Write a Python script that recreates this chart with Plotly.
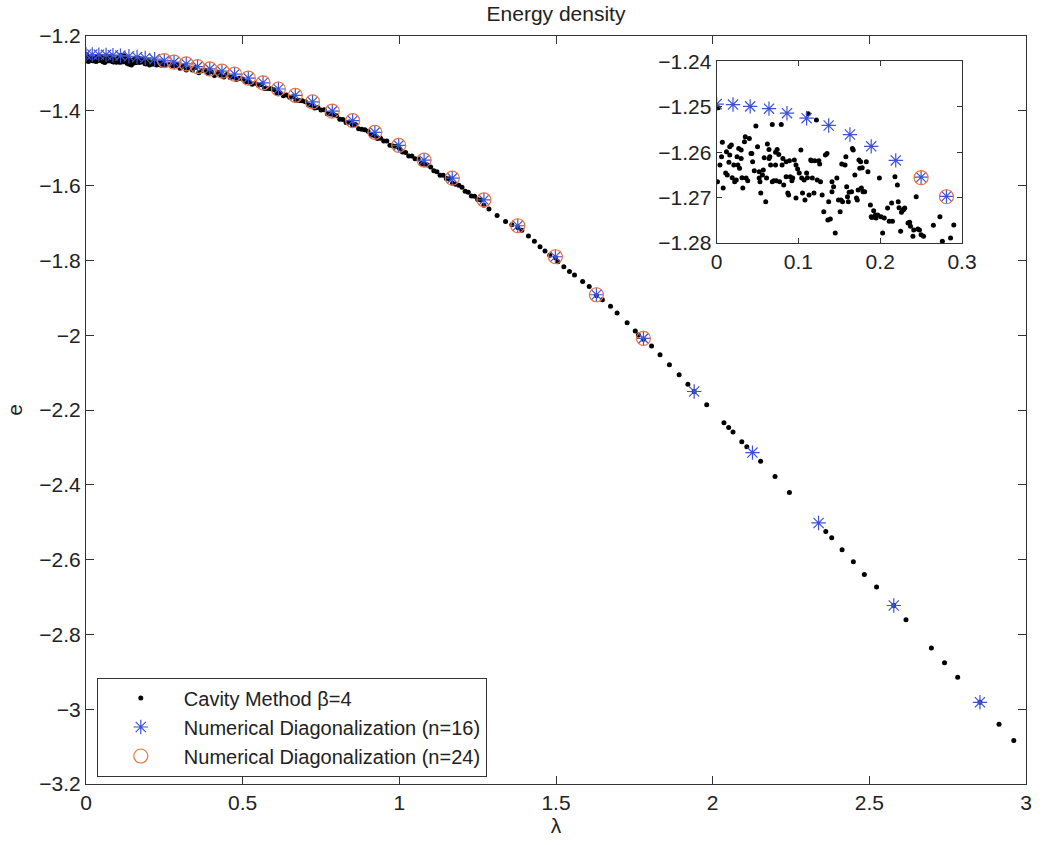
import plotly.graph_objects as go

# ---------------- data ----------------
# Cavity Method beta=4 (black dots)
cav_lam = [
    0.002, 0.001, 0.004, 0.006, 0.008, 0.007, 0.011, 0.012, 0.013, 0.016, 0.016, 0.018, 0.015, 0.019, 0.021,
    0.022, 0.024, 0.025, 0.026, 0.027, 0.028, 0.030, 0.030, 0.031, 0.032, 0.034, 0.035, 0.036, 0.038, 0.040,
    0.042, 0.043, 0.044, 0.046, 0.048, 0.050, 0.052, 0.052, 0.053, 0.054, 0.056, 0.057, 0.058, 0.060, 0.061,
    0.062, 0.064, 0.064, 0.065, 0.066, 0.068, 0.068, 0.070, 0.072, 0.072, 0.073, 0.074, 0.076, 0.077, 0.079,
    0.080, 0.081, 0.082, 0.085, 0.085, 0.087, 0.088, 0.089, 0.090, 0.092, 0.093, 0.095, 0.097, 0.097, 0.099,
    0.101, 0.103, 0.104, 0.105, 0.107, 0.108, 0.110, 0.111, 0.112, 0.113, 0.115, 0.116, 0.117, 0.119, 0.120,
    0.122, 0.123, 0.125, 0.126, 0.127, 0.129, 0.131, 0.133, 0.135, 0.136, 0.137, 0.139, 0.141, 0.141, 0.143,
    0.145, 0.147, 0.149, 0.151, 0.152, 0.153, 0.154, 0.157, 0.158, 0.159, 0.160, 0.161, 0.162, 0.165, 0.166,
    0.167, 0.169, 0.171, 0.172, 0.173, 0.174, 0.175, 0.176, 0.177, 0.178, 0.179, 0.181, 0.183, 0.185, 0.188,
    0.189, 0.190, 0.192, 0.193, 0.194, 0.195, 0.197, 0.199, 0.201, 0.203, 0.205, 0.209, 0.211, 0.214, 0.215,
    0.218, 0.221, 0.222, 0.223, 0.225, 0.226, 0.228, 0.229, 0.230, 0.234, 0.236, 0.237, 0.240, 0.241, 0.244,
    0.246, 0.248, 0.250, 0.253, 0.265, 0.273, 0.276, 0.286,
    0.29, 0.30, 0.31, 0.32, 0.33, 0.34, 0.35, 0.36, 0.37, 0.38, 0.39, 0.40, 0.41, 0.42, 0.43, 0.44, 0.45,
    0.46, 0.47, 0.48, 0.49, 0.50, 0.51, 0.52, 0.53, 0.54, 0.55, 0.56, 0.57, 0.58, 0.59, 0.60, 0.61, 0.62,
    0.63, 0.64, 0.65, 0.66, 0.67, 0.68, 0.69, 0.70, 0.71, 0.72, 0.73, 0.74, 0.75, 0.76, 0.77, 0.78, 0.79,
    0.80, 0.81, 0.82, 0.83, 0.84, 0.85, 0.86, 0.87, 0.88, 0.89, 0.90, 0.91, 0.92, 0.93, 0.94, 0.95, 0.96,
    0.97, 0.98, 0.99, 1.00, 1.01, 1.02, 1.03, 1.04, 1.05, 1.06, 1.07, 1.08, 1.09, 1.10, 1.11, 1.12, 1.13,
    1.14, 1.15, 1.16, 1.17, 1.18, 1.19, 1.20, 1.21, 1.22, 1.23, 1.24, 1.25, 1.26, 1.27,
    1.286, 1.312, 1.339, 1.359, 1.378, 1.391, 1.412, 1.431, 1.449, 1.465, 1.480, 1.498, 1.506, 1.525,
    1.543, 1.559, 1.585, 1.606, 1.629, 1.648, 1.674, 1.695, 1.727, 1.753, 1.763, 1.779, 1.805, 1.832,
    1.862, 1.893, 1.921, 1.941, 1.981, 2.036, 2.051, 2.065, 2.093, 2.109, 2.153, 2.199, 2.245, 2.361,
    2.380, 2.413, 2.449, 2.484, 2.523, 2.578, 2.617, 2.698, 2.740, 2.782, 2.853, 2.914, 2.961,
]
cav_e = [
    -1.2502, -1.2665, -1.2628, -1.2610, -1.2679, -1.2578, -1.2646, -1.2599, -1.2650, -1.2588, -1.2606, -1.2584,
    -1.2622, -1.2656, -1.2628, -1.2665, -1.2661, -1.2610, -1.2628, -1.2592, -1.2635, -1.2595, -1.2614, -1.2656,
    -1.2679, -1.2577, -1.2566, -1.2657, -1.2663, -1.2570, -1.2603, -1.2603, -1.2621, -1.2641, -1.2542, -1.2588,
    -1.2657, -1.2643, -1.2665, -1.2690, -1.2650, -1.2639, -1.2612, -1.2709, -1.2657, -1.2582, -1.2594, -1.2614,
    -1.2610, -1.2628, -1.2539, -1.2665, -1.2663, -1.2600, -1.2628, -1.2663, -1.2594, -1.2605, -1.2665, -1.2539,
    -1.2628, -1.2614, -1.2672, -1.2621, -1.2654, -1.2690, -1.2694, -1.2619, -1.2654, -1.2663, -1.2657, -1.2617,
    -1.2701, -1.2628, -1.2637, -1.2646, -1.2595, -1.2657, -1.2690, -1.2661, -1.2705, -1.2646, -1.2656, -1.2515,
    -1.2694, -1.2617, -1.2619, -1.2657, -1.2690, -1.2619, -1.2529, -1.2661, -1.2619, -1.2626, -1.2665, -1.2694,
    -1.2731, -1.2606, -1.2603, -1.2749, -1.2709, -1.2747, -1.2687, -1.2665, -1.2676, -1.2778, -1.2657, -1.2705,
    -1.2731, -1.2705, -1.2626, -1.2709, -1.2628, -1.2610, -1.2676, -1.2698, -1.2709, -1.2688, -1.2687, -1.2592,
    -1.2595, -1.2650, -1.2701, -1.2705, -1.2683, -1.2617, -1.2635, -1.2621, -1.2679, -1.2634, -1.2687, -1.2687,
    -1.2621, -1.2643, -1.2716, -1.2742, -1.2744, -1.2729, -1.2742, -1.2738, -1.2745, -1.2738, -1.2657, -1.2742,
    -1.2778, -1.2745, -1.2723, -1.2752, -1.2712, -1.2752, -1.2654, -1.2672, -1.2709, -1.2722, -1.2774, -1.2732,
    -1.2727, -1.2725, -1.2723, -1.2756, -1.2754, -1.2763, -1.2785, -1.2771, -1.2698, -1.2769, -1.2771, -1.2782,
    -1.2785, -1.2761, -1.2742, -1.2796, -1.2789,
    -1.2760, -1.2865, -1.2811, -1.2907, -1.2853, -1.2909, -1.2845, -1.2981, -1.2928, -1.2914, -1.3001, -1.2957,
    -1.3054, -1.2970, -1.3047, -1.3093, -1.3030, -1.3112, -1.3094, -1.3166, -1.3128, -1.3150, -1.3226, -1.3222,
    -1.3288, -1.3264, -1.3320, -1.3302, -1.3404, -1.3407, -1.3408, -1.3440, -1.3522, -1.3524, -1.3596, -1.3578,
    -1.3640, -1.3622, -1.3724, -1.3727, -1.3728, -1.3760, -1.3846, -1.3852, -1.3928, -1.3914, -1.3980, -1.3969,
    -1.4078, -1.4087, -1.4096, -1.4135, -1.4224, -1.4233, -1.4312, -1.4301, -1.4370, -1.4364, -1.4478, -1.4492,
    -1.4506, -1.4550, -1.4644, -1.4658, -1.4742, -1.4736, -1.4810, -1.4806, -1.4922, -1.4938, -1.4954, -1.5000,
    -1.5099, -1.5118, -1.5207, -1.5206, -1.5285, -1.5286, -1.5407, -1.5428, -1.5449, -1.5500, -1.5604, -1.5628,
    -1.5722, -1.5726, -1.5810, -1.5815, -1.5940, -1.5966, -1.5990, -1.6045, -1.6153, -1.6181, -1.6279, -1.6287,
    -1.6375, -1.6386, -1.6524,
    -1.6623, -1.6800, -1.6960, -1.7046, -1.7120, -1.7197, -1.7350, -1.7490, -1.7637, -1.7750, -1.7860, -1.7930,
    -1.8035, -1.8170, -1.8300, -1.8390, -1.8565, -1.8697, -1.8940, -1.9050, -1.9227, -1.9404, -1.9669, -1.9890,
    -1.9995, -2.0110, -2.0286, -2.0520, -2.0790, -2.1060, -2.1310, -2.1505, -2.1860, -2.2344, -2.2469, -2.2590,
    -2.2848, -2.2980, -2.3370, -2.3775, -2.4207, -2.5250, -2.5417, -2.5735, -2.6060, -2.6397, -2.6733, -2.7227,
    -2.7608, -2.8366, -2.8755, -2.9144, -2.9815, -3.0405, -3.0840,
]

# Numerical Diagonalization n=16 (blue stars)
n16_lam = [0.0, 0.020, 0.041, 0.064, 0.086, 0.110, 0.137, 0.163, 0.189, 0.219, 0.250, 0.281, 0.320,
           0.356, 0.395, 0.434, 0.474, 0.518, 0.565, 0.614, 0.668, 0.723, 0.786, 0.851, 0.922, 0.998,
           1.079, 1.169, 1.270, 1.378, 1.498, 1.629, 1.779, 1.941, 2.127, 2.338, 2.578, 2.853]
n16_e = [-1.2494, -1.2495, -1.2499, -1.2504, -1.2514, -1.2525, -1.2541, -1.2561, -1.2587, -1.2618,
         -1.2655, -1.2697, -1.2747, -1.2817, -1.2879, -1.2940, -1.3020, -1.3126, -1.3251, -1.3417,
         -1.3585, -1.3762, -1.4009, -1.4265, -1.4575, -1.4923, -1.5320, -1.5800, -1.6384, -1.7073,
         -1.7902, -1.8919, -2.0085, -2.1505, -2.3139, -2.5020, -2.7227, -2.9815]

# Numerical Diagonalization n=24 (orange circles)
n24_lam = [0.250, 0.281, 0.320, 0.356, 0.395, 0.434, 0.474, 0.518, 0.565, 0.614, 0.668, 0.723,
           0.786, 0.851, 0.922, 0.998, 1.079, 1.169, 1.270, 1.378, 1.498, 1.629, 1.779]
n24_e = [-1.2656, -1.2698, -1.2747, -1.2817, -1.2879, -1.2940, -1.3020, -1.3126, -1.3251, -1.3417,
         -1.3585, -1.3762, -1.4009, -1.4265, -1.4575, -1.4923, -1.5320, -1.5800, -1.6384, -1.7073,
         -1.7902, -1.8919, -2.0085]

main_xticks = [0, 0.5, 1, 1.5, 2, 2.5, 3]
main_yticks = [-3.2, -3.0, -2.8, -2.6, -2.4, -2.2, -2.0, -1.8, -1.6, -1.4, -1.2]
inset_xticks = [0, 0.1, 0.2, 0.3]
inset_yticks = [-1.28, -1.27, -1.26, -1.25, -1.24]

# ---------------- style ----------------
FONT = "Liberation Sans, Arial, sans-serif"
BLUE = "#3d52d5"
ORANGE = "#ec7440"
AXC = "#333333"

fig = go.Figure()

for ax, show in (("", True), ("2", False)):
    xa = "x" + ax
    ya = "y" + ax
    fig.add_trace(go.Scatter(
        x=cav_lam, y=cav_e, mode="markers", name="Cavity Method β=4",
        marker=dict(color="black", size=5, line=dict(width=0)),
        xaxis=xa, yaxis=ya, showlegend=show))
    fig.add_trace(go.Scatter(
        x=n16_lam, y=n16_e, mode="markers", name="Numerical Diagonalization (n=16)",
        marker=dict(symbol="asterisk-open", size=12, color=BLUE, line=dict(color=BLUE, width=1.2)),
        xaxis=xa, yaxis=ya, showlegend=show))
    fig.add_trace(go.Scatter(
        x=n24_lam, y=n24_e, mode="markers", name="Numerical Diagonalization (n=24)",
        marker=dict(symbol="circle-open", size=14, color=ORANGE, line=dict(color=ORANGE, width=1.2)),
        xaxis=xa, yaxis=ya, showlegend=show))

axis_common = dict(showline=True, linecolor=AXC, linewidth=1, mirror="ticks", ticks="inside",
                   tickcolor=AXC, showgrid=False, zeroline=False,
                   tickfont=dict(family=FONT, size=21, color="#222"))

fig.update_layout(
    width=1053, height=845,
    margin=dict(l=86, r=13, t=36, b=54),
    paper_bgcolor="white", plot_bgcolor="white",
    font=dict(family=FONT, size=21, color="#222"),
    title=dict(text="Energy density", x=0.5, xref="paper", y=1 - 14 / 845, yref="container",
               yanchor="middle", font=dict(family=FONT, size=21, color="#222")),
    xaxis=dict(range=[0, 3], tickvals=main_xticks, ticklen=8, domain=[0, 1],
               title=dict(text="λ", standoff=4, font=dict(family=FONT, size=21)), **axis_common),
    yaxis=dict(range=[-3.2, -1.2], tickvals=main_yticks, ticklen=8, domain=[0, 1],
               title=dict(text="e", standoff=10, font=dict(family=FONT, size=21)), **axis_common),
    xaxis2=dict(range=[0, 0.3], tickvals=inset_xticks, ticklen=5, domain=[0.6709, 0.9319],
                anchor="y2", **axis_common),
    yaxis2=dict(range=[-1.28, -1.24], tickvals=inset_yticks, ticklen=5, domain=[0.7232, 0.9660],
                anchor="x2", **axis_common),
    legend=dict(x=0.0115, y=0.01, xanchor="left", yanchor="bottom", bgcolor="white",
                bordercolor=AXC, borderwidth=1, itemwidth=76, tracegroupgap=0,
                font=dict(family=FONT, size=20, color="#222")),
)

fig.write_html("out.html")
